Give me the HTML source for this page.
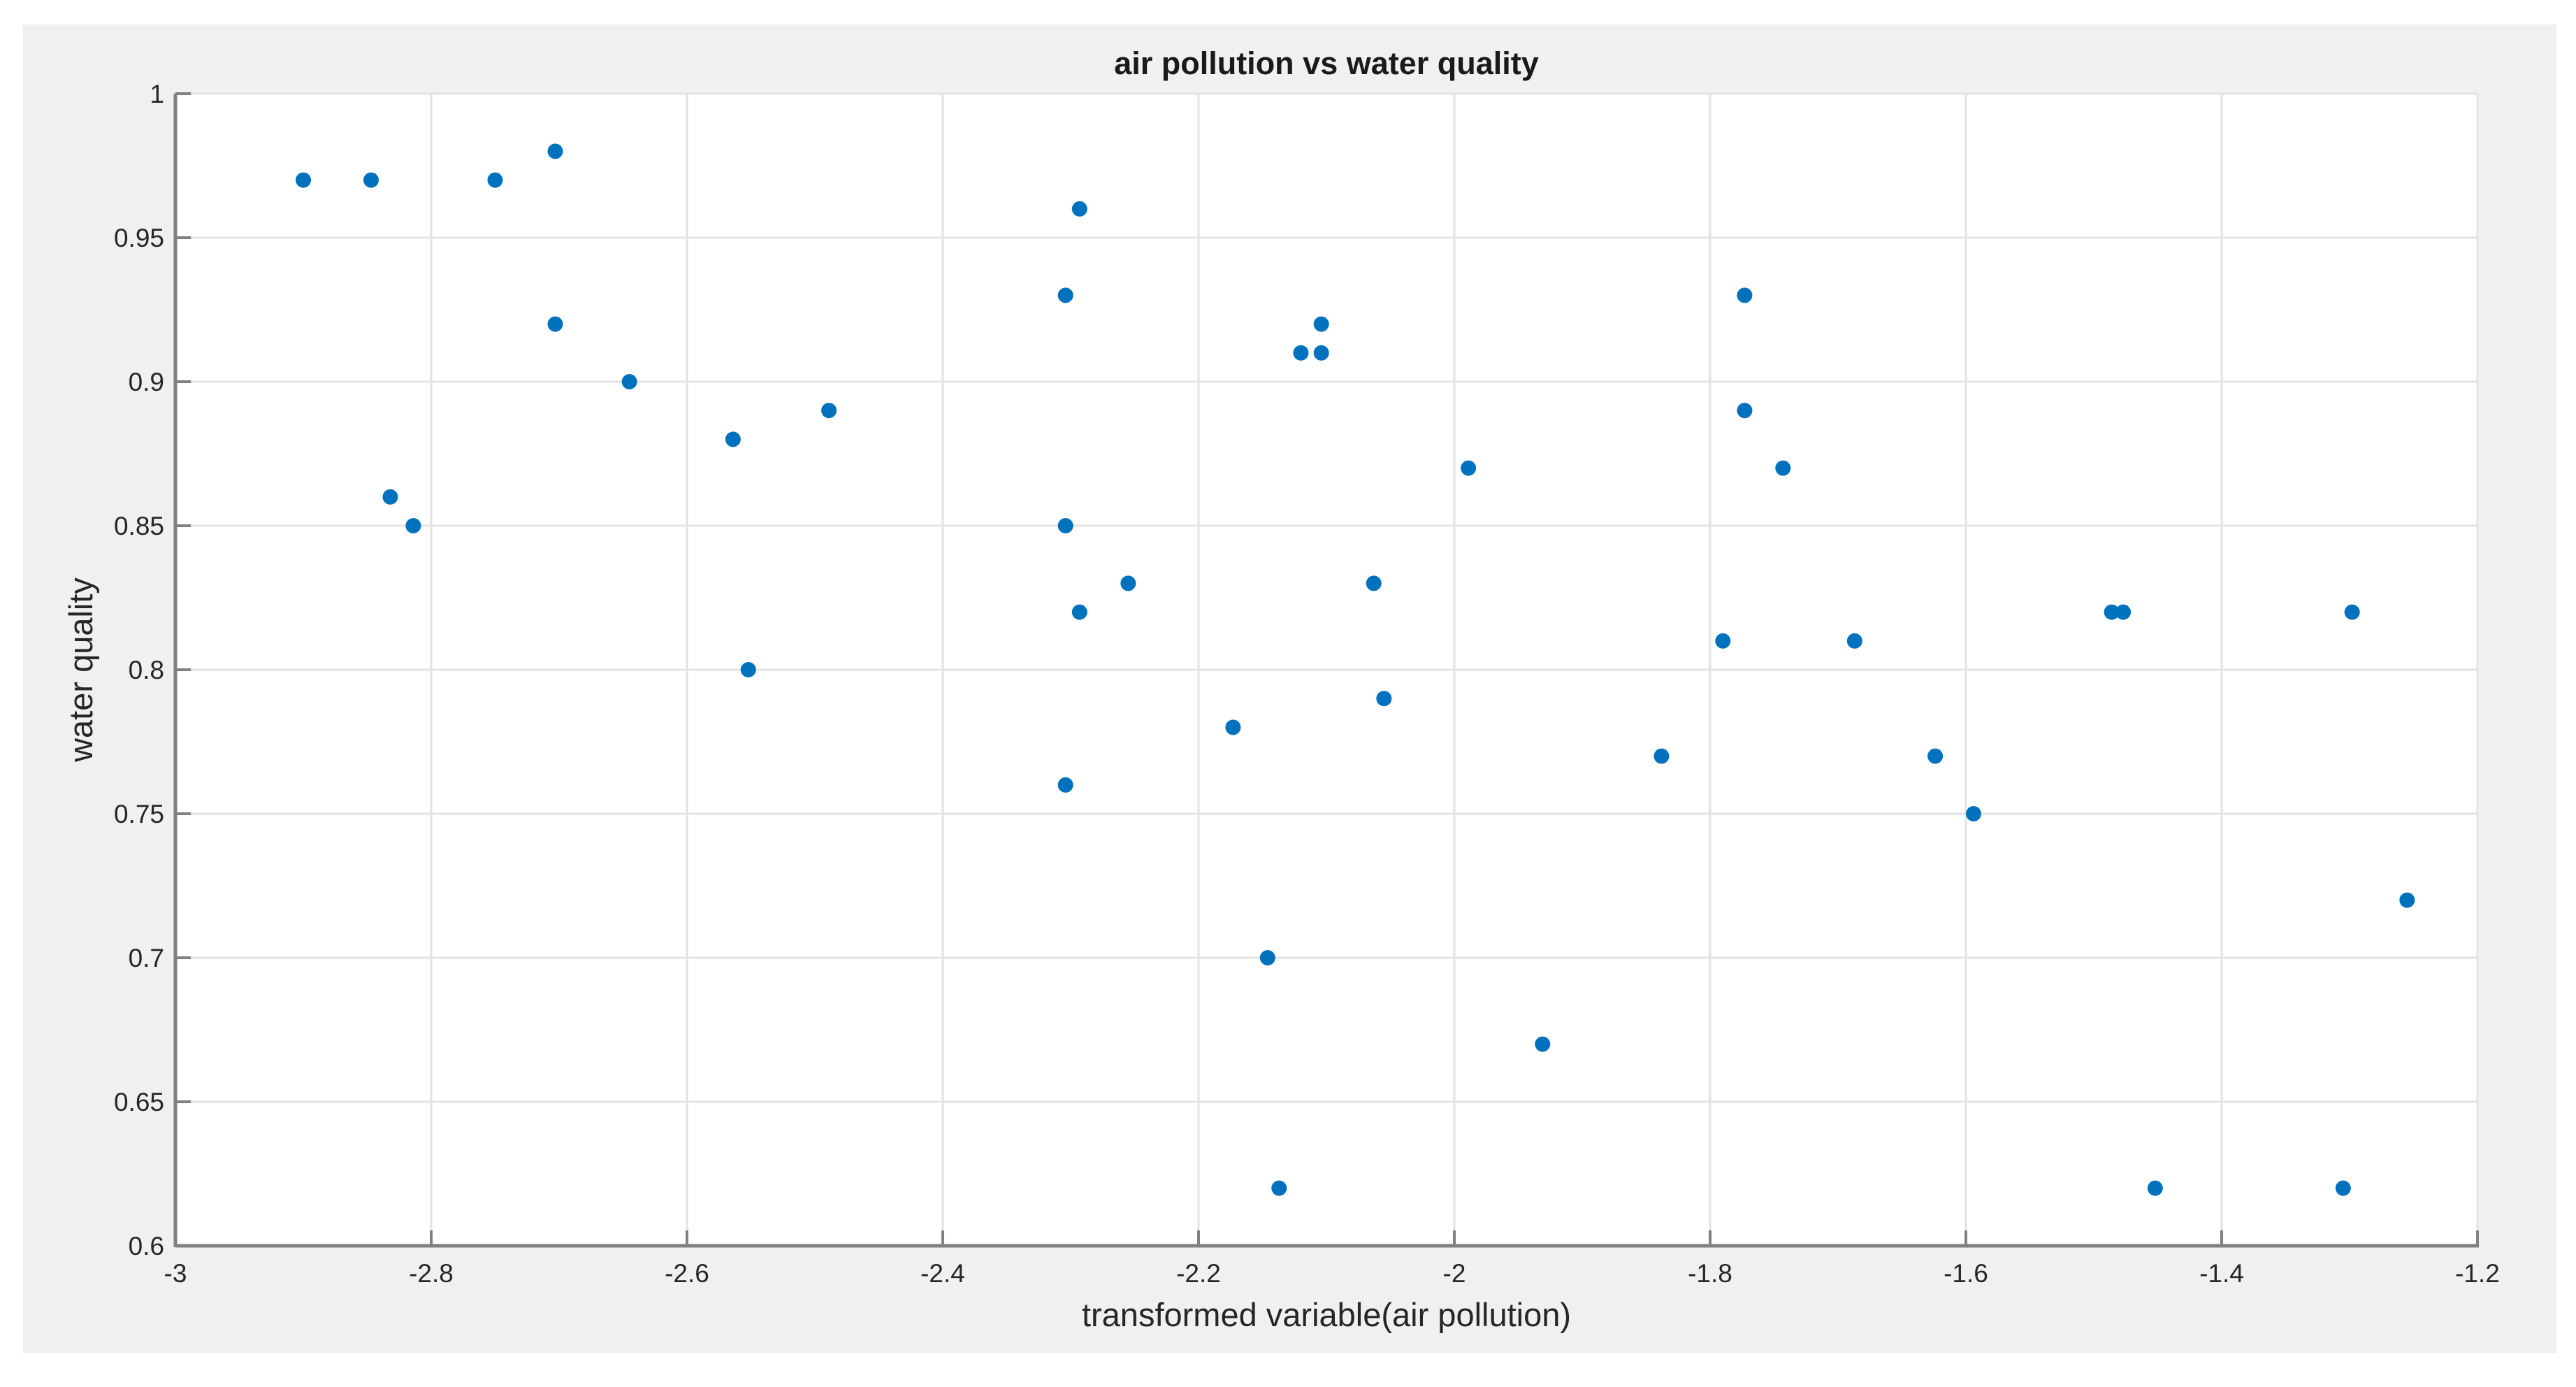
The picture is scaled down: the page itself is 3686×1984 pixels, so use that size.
<!DOCTYPE html>
<html><head><meta charset="utf-8"><style>
html,body{margin:0;padding:0;background:#fff;}
svg{display:block;font-family:"Liberation Sans",Arial,sans-serif;}
</style></head><body>
<svg id="chart" width="3686" height="1984" viewBox="0 0 3686 1984" xmlns="http://www.w3.org/2000/svg">
<rect x="33" y="35" width="3625" height="1900" fill="#f0f0f0"/>
<rect x="251" y="134" width="3294" height="1648" fill="#ffffff"/>
<g id="grid"></g>
<g id="axes"></g>
<g id="points"></g>
<text x="1898" y="106" font-size="45" font-weight="bold" text-anchor="middle" fill="#1a1a1a">air pollution vs water quality</text>
<text x="1898" y="1897" font-size="47" text-anchor="middle" fill="#262626">transformed variable(air pollution)</text>
<text x="0" y="0" font-size="47" text-anchor="middle" fill="#262626" transform="translate(132,958) rotate(-90)">water quality</text>
</svg>
<script>
const xValues=[-2.90,-2.847,-2.75,-2.703,-2.703,-2.645,-2.832,-2.814,-2.564,-2.552,-2.489,-2.304,-2.293,-2.304,-2.293,-2.255,-2.304,-2.173,-2.146,-2.137,-2.120,-2.104,-2.104,-2.063,-2.055,-1.989,-1.931,-1.838,-1.790,-1.773,-1.773,-1.743,-1.687,-1.624,-1.594,-1.486,-1.477,-1.452,-1.305,-1.298,-1.255];
const yValues=[0.97,0.97,0.97,0.98,0.92,0.90,0.86,0.85,0.88,0.80,0.89,0.93,0.96,0.85,0.82,0.83,0.76,0.78,0.70,0.62,0.91,0.92,0.91,0.83,0.79,0.87,0.67,0.77,0.81,0.93,0.89,0.87,0.81,0.77,0.75,0.82,0.82,0.62,0.62,0.82,0.72];
const xTicks=[-3,-2.8,-2.6,-2.4,-2.2,-2,-1.8,-1.6,-1.4,-1.2];
const yTicks=[0.6,0.65,0.7,0.75,0.8,0.85,0.9,0.95,1];
const xTickLabels=["-3","-2.8","-2.6","-2.4","-2.2","-2","-1.8","-1.6","-1.4","-1.2"];
const yTickLabels=["0.6","0.65","0.7","0.75","0.8","0.85","0.9","0.95","1"];
const L=251,R=3545,T=134,B=1782,xMin=-3,xMax=-1.2,yMin=0.6,yMax=1;
const NS="http://www.w3.org/2000/svg";
function xs(v){return L+(v-xMin)/(xMax-xMin)*(R-L);}
function ys(v){return B-(v-yMin)/(yMax-yMin)*(B-T);}
function mk(tag,attrs,parent){const e=document.createElementNS(NS,tag);for(const k in attrs)e.setAttribute(k,attrs[k]);parent.appendChild(e);return e;}
const grid=document.getElementById('grid'),axes=document.getElementById('axes'),pts=document.getElementById('points');
xTicks.forEach((t,i)=>{const x=xs(t);
 const g=mk('line',{x1:x,x2:x,y1:T,y2:B,stroke:'#e3e3e3','stroke-width':3},grid);
 
 
 const tk=mk('line',{x1:x,x2:x,y1:B,y2:B-22,stroke:'#808080','stroke-width':4},axes);
 
 
 const lb=mk('text',{x:x,y:B+52,'font-size':37,'text-anchor':'middle',fill:'#262626'},axes);
 lb.textContent=xTickLabels[i];
 
 
});
yTicks.forEach((t,i)=>{const y=ys(t);
 const g=mk('line',{x1:L,x2:R,y1:y,y2:y,stroke:'#e3e3e3','stroke-width':3},grid);
 
 
 const tk=mk('line',{x1:L,x2:L+22,y1:y,y2:y,stroke:'#808080','stroke-width':4},axes);
 
 
 const lb=mk('text',{x:L-16,y:y+13,'font-size':37,'text-anchor':'end',fill:'#262626'},axes);
 lb.textContent=yTickLabels[i];
 
 
});
const xa=mk('line',{x1:L,x2:R+2,y1:B,y2:B,stroke:'#808080','stroke-width':5},axes);


const ya=mk('line',{x1:L,x2:L,y1:T,y2:B+2,stroke:'#808080','stroke-width':5},axes);


xValues.forEach((v,i)=>{
 const c=mk('circle',{cx:xs(v),cy:ys(yValues[i]),r:11,fill:'#0072bd'},pts);
 
 
});
</script>
</body></html>
